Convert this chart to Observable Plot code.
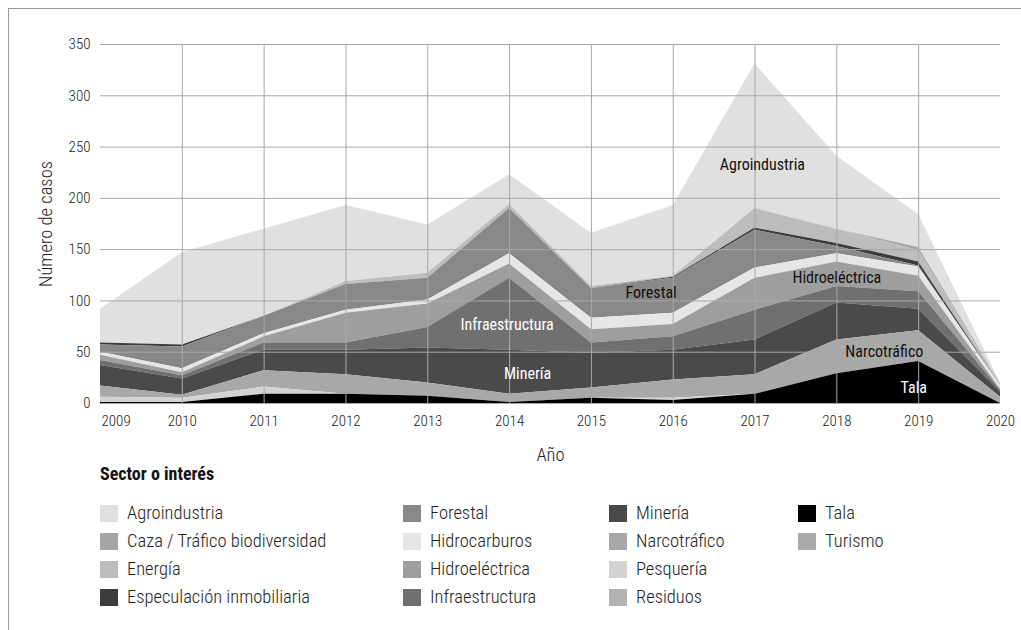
<!DOCTYPE html>
<html><head><meta charset="utf-8">
<script src="https://cdn.jsdelivr.net/npm/d3@7"></script>
<script src="https://cdn.jsdelivr.net/npm/@observablehq/plot@0.6"></script>
<style>
  body { margin: 0; background: #fff; font-family: "Roboto Condensed", Roboto, sans-serif; }
  #frame { position: absolute; left: 8px; top: 8px; width: 1013px; height: 622px; border-top: 1px solid #999; border-left: 1px solid #999; }
  #chart { position: absolute; left: 0; top: 0; }
  #chart svg text { font-weight: 300; }
  #chart svg .lbl text { font-weight: 400; }
  #legend { position: absolute; left: 0; top: 0; width: 1021px; height: 630px; color: #222; }
  .ltitle { position: absolute; left: 100px; top: 463px; font-weight: 700; font-size: 18px; color: #111; }
  .item { position: absolute; height: 17px; line-height: 17px; font-size: 18.5px; font-weight: 300; white-space: nowrap; }
  .sw { position: absolute; left: 0; top: 0; width: 18px; height: 17px; }
  .lt { position: absolute; left: 27px; top: 0; }
</style></head>
<body>
<div id="frame"></div>
<div id="chart"></div>
<div id="legend"></div>
<script>
// ---- data ----
const years = [2009, 2010, 2011, 2012, 2013, 2014, 2015, 2016, 2017, 2018, 2019, 2020];
const sectors = ["Agroindustria", "Caza / Tráfico biodiversidad", "Energía", "Especulación inmobiliaria",
  "Forestal", "Hidrocarburos", "Hidroeléctrica", "Infraestructura",
  "Minería", "Narcotráfico", "Pesquería", "Residuos", "Tala", "Turismo"];
const sectorColors = ["#e0e0e0", "#a6a6a6", "#bdbdbd", "#3c3c3c",
  "#888888", "#e6e6e6", "#9e9e9e", "#707070",
  "#4a4a4a", "#a8a8a8", "#d3d3d3", "#b3b3b3", "#000000", "#aaaaaa"];

const agroindustria   = [33, 90, 85, 74, 47, 29, 52, 69, 141, 71, 32, 1];
const caza            = [0, 0, 0, 0, 0, 0, 0, 0, 0, 0, 3, 1];
const energia         = [0, 0, 0, 3, 5, 4, 2, 1, 19, 14, 11, 1];
const especulacion    = [2, 2, 0, 0, 0, 0, 0, 1, 2, 3, 4, 0];
const forestal        = [7, 21, 17, 25, 21, 44, 29, 34, 37, 7, 1, 0];
const hidrocarburos   = [3, 4, 3, 3, 4, 10, 11, 11, 10, 8, 9, 3];
const hidroelectrica  = [5, 3, 6, 29, 23, 14, 13, 12, 31, 24, 15, 1];
const infraestructura = [5, 3, 7, 7, 20, 70, 10, 13, 29, 16, 17, 2];
const mineria         = [20, 16, 20, 24, 34, 43, 34, 29, 34, 36, 21, 5];
const narcotrafico    = [11, 3, 16, 19, 13, 8, 10, 18, 19, 33, 30, 6];
const pesqueria       = [5, 4, 7, 0, 0, 0, 0, 2, 0, 0, 0, 0];
const residuos        = [0, 0, 0, 0, 0, 0, 0, 0, 0, 0, 0, 0];
const tala            = [1, 1, 9, 9, 7, 1, 5, 3, 9, 29, 41, 0];
const turismo         = [0, 0, 0, 0, 0, 0, 0, 0, 0, 0, 0, 0];

const series = [agroindustria, caza, energia, especulacion, forestal, hidrocarburos, hidroelectrica,
  infraestructura, mineria, narcotrafico, pesqueria, residuos, tala, turismo];
// stacking order, bottom to top
const stackOrder = sectors.slice().reverse();

const yTicks = [0, 50, 100, 150, 200, 250, 300, 350];
const xLabel = "Año";
const yLabel = "Número de casos";
const legendTitle = "Sector o interés";

// in-chart annotations
const annotations = [
  {text: "Agroindustria", year: 2017.09, value: 233, fill: "#111"},
  {text: "Hidroeléctrica", year: 2018.0, value: 122, fill: "#111"},
  {text: "Forestal", year: 2015.73, value: 108, fill: "#111"},
  {text: "Infraestructura", year: 2013.97, value: 77, fill: "#fff"},
  {text: "Minería", year: 2014.22, value: 29, fill: "#fff"},
  {text: "Narcotráfico", year: 2018.58, value: 50, fill: "#111"},
  {text: "Tala", year: 2018.94, value: 15, fill: "#fff"}
];

// ---- table ----
const rows = [];
sectors.forEach((s, k) => years.forEach((y, i) => rows.push({sector: s, year: y, value: series[k][i]})));

const font = '"Roboto Condensed", Roboto, sans-serif';
const chart = Plot.plot({
  width: 1021, height: 470,
  marginLeft: 100, marginRight: 21, marginTop: 44, marginBottom: 67,
  style: {fontFamily: font, fontSize: "15px", color: "#222", background: "transparent"},
  x: {domain: [2009, 2020]},
  y: {domain: [0, 350]},
  color: {domain: sectors, range: sectorColors},
  marks: [
    Plot.areaY(rows, {x: "year", y: "value", z: "sector", fill: "sector", order: stackOrder, curve: "linear"}),
    Plot.gridY(yTicks, {stroke: "#a8a8a8", strokeOpacity: 1}),
    Plot.gridX(years.slice(1, -1), {stroke: "#a8a8a8", strokeOpacity: 1}),
    Plot.axisY(yTicks, {tickSize: 0, tickPadding: 10, fontSize: 15, label: null}),
    Plot.axisY({label: yLabel, labelAnchor: "center", labelArrow: "none", labelOffset: 62, ticks: [], tickSize: 0, fontSize: 18.5}),
    Plot.axisX(years.slice(0, 1), {tickSize: 0, tickPadding: 12, textAnchor: "start", dx: 1, tickFormat: d => String(d), fontSize: 15, label: null}),
    Plot.axisX(years.slice(1), {tickSize: 0, tickPadding: 12, tickFormat: d => String(d), fontSize: 15, label: null}),
    Plot.axisX({label: xLabel, labelAnchor: "center", labelArrow: "none", labelOffset: 57, ticks: [], tickSize: 0, fontSize: 18.5}),
    Plot.text(annotations, {x: "year", y: "value", text: "text", fill: "fill", fontSize: 16, className: "lbl"})
  ]
});
document.getElementById("chart").appendChild(chart);

// ---- legend ----
const legend = document.getElementById("legend");
const t = document.createElement("div");
t.className = "ltitle"; t.textContent = legendTitle; legend.appendChild(t);
const colX = [100, 403, 609, 798];
const rowY = [505, 533, 561, 589];
sectors.forEach((s, i) => {
  const c = Math.floor(i / 4), r = i % 4;
  const d = document.createElement("div");
  d.className = "item";
  d.style.left = colX[c] + "px"; d.style.top = rowY[r] + "px";
  d.innerHTML = `<div class="sw" style="background:${sectorColors[i]}"></div><div class="lt">${s}</div>`;
  legend.appendChild(d);
});
</script>
</body></html>
